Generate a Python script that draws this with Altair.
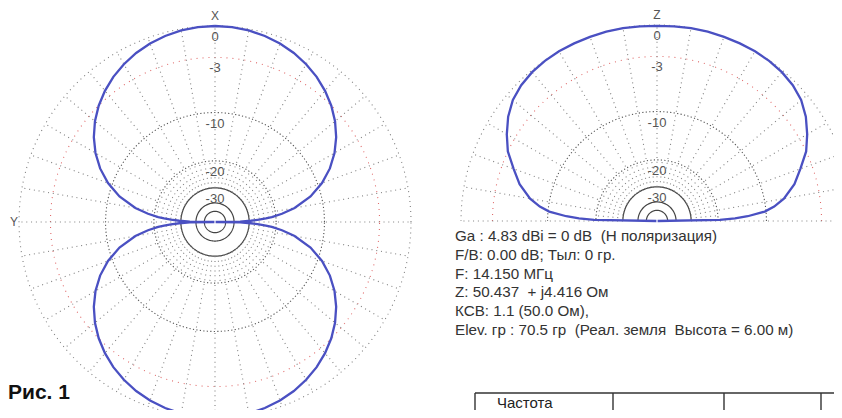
import altair as alt
import pandas as pd

# ---------------- data ----------------
RING_DB = [0, -3, -10, -20, -30, -40, -50]
RING_LABEL_DB = [0, -3, -10, -20, -30]
RING_LABELS = ["0", "-3", "-10", "-20", "-30"]

# azimuth pattern (left plot), one quadrant: angle from X axis (deg) and level (dB)
AZ_ANGLE = [0, 5, 10, 15, 20, 25, 30, 35, 40, 45, 50, 55, 60, 65, 70, 75, 80, 83, 85, 86, 87, 88, 89, 90]
AZ_DB = [0.0, -0.03, -0.13, -0.3, -0.54, -0.85, -1.25, -1.73, -2.32, -3.01, -3.84, -4.83,
         -6.02, -7.48, -9.32, -11.74, -15.2, -18.3, -21.2, -23.1, -25.6, -29.2, -35.2, -99.0]

# elevation pattern (right plot), half: elevation angle (deg) and level (dB)
EL_ANGLE = [0, 1, 2, 3, 5, 7, 10, 15, 20, 25, 30, 35, 40, 45, 50, 55, 60, 65, 70, 75, 80, 85, 90]
EL_DB = [-99.0, -19.5, -15.8, -13.2, -10.2, -8.7, -7.2, -5.5, -4.3, -3.0, -2.1, -1.3, -0.7,
         -0.35, -0.15, -0.05, 0.0, 0.0, 0.0, 0.0, -0.02, -0.05, -0.07]

NB = "\u00a0"
INFO_LINES = [
    f"Ga : 4.83 dBi = 0 dB {NB}(H поляризация)",
    "F/B: 0.00 dB; Тыл: 0 гр.",
    "F: 14.150 МГц",
    f"Z: 50.437 {NB}+ j4.416 Ом",
    "КСВ: 1.1 (50.0 Ом),",
    f"Elev. гр : 70.5 гр {NB}(Реал. земля {NB}Высота = 6.00 м)",
]
FIG_LABEL = "Рис. 1"
TABLE_HEADER = "Частота"

# ---------------- layout (chart pixels = page pixels - 8) ----------------
W, H = 826, 402
R_PX = 196.0
LCX, LCY = 207.0, 214.0          # left centre
RCX, RCY = 649.0, 213.0          # right centre
XDOM = [-LCX / R_PX, (W - LCX) / R_PX]
YDOM = [(LCY - H) / R_PX, LCY / R_PX]
R_OFFX = (RCX - LCX) / R_PX
R_OFFY = (LCY - RCY) / R_PX

xs = alt.Scale(domain=XDOM, nice=False, zero=False)
ys = alt.Scale(domain=YDOM, nice=False, zero=False)

CX = f"(datum.panel == 'az' ? 0 : {R_OFFX})"
CY = f"(datum.panel == 'az' ? 0 : {R_OFFY})"
RAD = "datum.ang * PI / 180"


def style_of(db):
    if db == 0:
        return "outer"
    if db == -3:
        return "red"
    if db in (-10, -20):
        return "dark"
    return "solid"


# rings
ring_rows = []
for panel, amax in (("az", 360), ("el", 180)):
    for db in RING_DB:
        for i, a in enumerate(range(0, amax + 1, 2)):
            ring_rows.append(dict(panel=panel, db=db, ang=a, i=i,
                                  key=f"{panel}{db}", style=style_of(db)))
rings = pd.DataFrame(ring_rows)

# spokes
spoke_rows = []
for panel, amax in (("az", 360), ("el", 180)):
    for a in range(0, amax + (1 if panel == "el" else 0), 10):
        spoke_rows.append(dict(panel=panel, ang=a, d1=-30, d2=0))
    for a in range(5, amax, 10):
        spoke_rows.append(dict(panel=panel, ang=a, d1=-30, d2=-20))
spokes = pd.DataFrame(spoke_rows)

# pattern curves
curve_rows = []
q1 = list(zip(AZ_ANGLE, AZ_DB))
seq = ([(p, d) for p, d in q1] +
       [(180 - p, d) for p, d in reversed(q1)] +
       [(180 + p, d) for p, d in q1] +
       [(360 - p, d) for p, d in reversed(q1)])
for i, (p, d) in enumerate(seq):
    curve_rows.append(dict(panel="az", ang=90 - p, db=d, i=i, key="az"))
h1 = list(zip(EL_ANGLE, EL_DB))
seq = [(t, d) for t, d in h1] + [(180 - t, d) for t, d in reversed(h1)]
for i, (t, d) in enumerate(seq):
    curve_rows.append(dict(panel="el", ang=t, db=d, i=i, key="el"))
curves = pd.DataFrame(curve_rows)

# ring labels
lab_rows = []
for panel in ("az", "el"):
    for db, txt in zip(RING_LABEL_DB, RING_LABELS):
        lab_rows.append(dict(panel=panel, db=db, ang=90, txt=txt))
labels = pd.DataFrame(lab_rows)

axis_letters = pd.DataFrame([
    dict(panel="az", ang=90, db=0, txt="X", dx=0, dy=-10),
    dict(panel="az", ang=180, db=0, txt="Y", dx=-5, dy=0),
    dict(panel="el", ang=90, db=0, txt="Z", dx=0, dy=-10),
])


def polar(chart, dbfield="db"):
    return chart.transform_calculate(
        r=f"pow(0.89, -datum.{dbfield} / 2)"
    ).transform_calculate(
        x=f"{CX} + datum.r * cos({RAD})",
        y=f"{CY} + datum.r * sin({RAD})",
    )


X = alt.X("x:Q", scale=xs, axis=None)
Y = alt.Y("y:Q", scale=ys, axis=None)

ring_styles = {
    "outer": dict(color="#808080", strokeDash=[1, 4], strokeWidth=1.1),
    "red": dict(color="#e06a6a", strokeDash=[1, 5], strokeWidth=1.1),
    "dark": dict(color="#555555", strokeDash=[1.2, 2.3], strokeWidth=1.1),
    "solid": dict(color="#444444", strokeWidth=1.2),
}

layers = []
for st, kw in ring_styles.items():
    base = alt.Chart(rings[rings["style"] == st]).mark_line(**kw)
    layers.append(polar(base).encode(x=X, y=Y, detail="key:N", order="i:Q"))

spoke_layer = alt.Chart(spokes).mark_rule(
    color="#808080", strokeDash=[1, 3.8], strokeWidth=1.1
).transform_calculate(
    r1="pow(0.89, -datum.d1 / 2)", r2="pow(0.89, -datum.d2 / 2)"
).transform_calculate(
    x=f"{CX} + datum.r1 * cos({RAD})", y=f"{CY} + datum.r1 * sin({RAD})",
    x2=f"{CX} + datum.r2 * cos({RAD})", y2=f"{CY} + datum.r2 * sin({RAD})",
).encode(x=X, y=Y, x2="x2:Q", y2="y2:Q")
layers.append(spoke_layer)

label_layer = polar(alt.Chart(labels).mark_text(
    font="Liberation Sans", fontSize=13, color="#555555", dy=11, baseline="middle"
)).encode(x=X, y=Y, text="txt:N")
layers.append(label_layer)

for _, row in axis_letters.iterrows():
    one = polar(alt.Chart(axis_letters[axis_letters["txt"] == row["txt"]]).mark_text(
        font="Liberation Sans", fontSize=12, color="#555555", baseline="middle",
        dx=int(row["dx"]), dy=int(row["dy"])
    )).encode(x=X, y=Y, text="txt:N")
    layers.append(one)

curve_layer = polar(alt.Chart(curves).mark_line(
    color="#4a50c2", strokeWidth=2.3
)).encode(x=X, y=Y, detail="key:N", order="i:Q")
layers.append(curve_layer)

# info text block
info = pd.DataFrame({"txt": INFO_LINES, "row": list(range(len(INFO_LINES)))})
info_layer = alt.Chart(info).mark_text(
    font="Liberation Sans", fontSize=15.2, color="#333333", align="left", baseline="middle"
).transform_calculate(
    py="228 + datum.row * 18.8"
).encode(x=alt.value(447),
         y=alt.Y("py:Q", scale=alt.Scale(domain=[0, H], range=[0, H], nice=False, zero=False), axis=None),
         text="txt:N")

fig_layer = alt.Chart(pd.DataFrame({"txt": [FIG_LABEL]})).mark_text(
    font="Liberation Sans", fontSize=21, fontWeight="bold", color="#111111",
    align="left", baseline="middle"
).encode(x=alt.value(0), y=alt.value(385), text="txt:N")

tbl_text = alt.Chart(pd.DataFrame({"txt": [TABLE_HEADER]})).mark_text(
    font="Liberation Sans", fontSize=15, color="#222222", align="left", baseline="alphabetic"
).encode(x=alt.value(489), y=alt.value(400), text="txt:N")

dummy = pd.DataFrame({"a": [0]})
tbl_h = alt.Chart(dummy).mark_rule(color="#333333", strokeWidth=1.4).encode(
    x=alt.value(467), x2=alt.value(W), y=alt.value(385))
tbl_v = [alt.Chart(dummy).mark_rule(color="#333333", strokeWidth=1.4).encode(
    x=alt.value(vx), y=alt.value(385), y2=alt.value(H)) for vx in (467, 605, 716, 813)]

chart = alt.layer(*layers, info_layer, fig_layer, tbl_h, *tbl_v, tbl_text).resolve_scale(
    y="independent"
).properties(
    width=W, height=H, padding=0, autosize=alt.AutoSizeParams(type="none"),
    background="white",
).configure_view(stroke=None)

chart.save("out.html", embed_options={"renderer": "svg", "actions": False})
